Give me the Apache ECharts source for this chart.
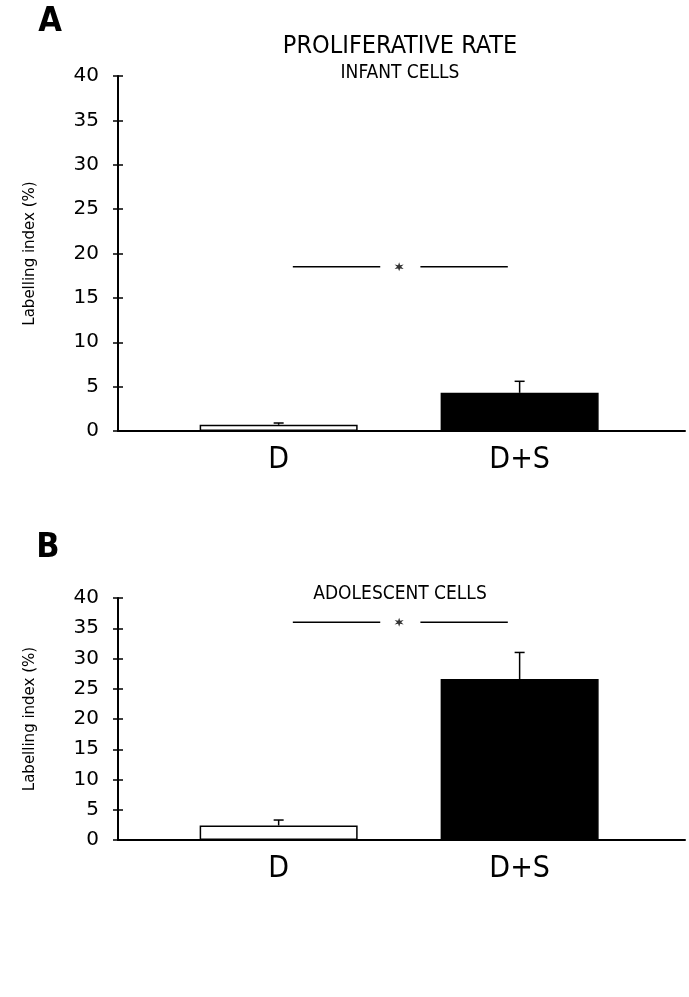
<!DOCTYPE html>
<html>
<head>
<meta charset="utf-8">
<script src="https://cdn.jsdelivr.net/npm/echarts@6/dist/echarts.min.js"></script>
<style>
  html, body { margin: 0; padding: 0; background: #fff; }
  #chart { width: 689px; height: 997px; }
</style>
</head>
<body>
<div id="chart"></div>
<script>
// groups on the x axis (value positions so the bars sit where the figure has them)
var categories = ['D', 'D+S'];
var catX = [0.68, 1.7];

// panel A - infant cells
var infantMean = [0.7, 4.3];
var infantErr = [0.2, 1.3];
// panel B - adolescent cells
var adolMean = [2.4, 26.6];
var adolErr = [0.9, 4.4];

// significance bars (y level per panel, x extent of the two dashes, star position)
var sigY = [18.5, 36];
var sigSegments = [[0.74, 1.11], [1.28, 1.65]];
var starX = 1.19;

var barColors = ['#ffffff', '#000000'];
var starPath = 'path://M0,-10L2,-3.5L8.7,-5L4,0L8.7,5L2,3.5L0,10L-2,3.5L-8.7,5L-4,0L-8.7,-5L-2,-3.5Z';
var textFont = '"DejaVu Sans Condensed", "Liberation Sans", sans-serif';

function xAxisFor(gridIndex) {
  return {
    type: 'value', gridIndex: gridIndex, min: 0, max: 2.4,
    axisLine: { show: true, lineStyle: { color: '#000', width: 2 } },
    axisTick: { show: false },
    splitLine: { show: false },
    axisLabel: {
      customValues: catX,
      formatter: function (v) { return categories[catX.indexOf(v)] || ''; },
      fontFamily: textFont, fontSize: 30, color: '#000', margin: 14
    }
  };
}

function yAxesFor(gridIndex) {
  return [{
    type: 'value', gridIndex: gridIndex, min: 0, max: 40, interval: 5,
    name: 'Labelling index (%)', nameLocation: 'middle', nameGap: 80,
    nameTextStyle: { fontFamily: 'DejaVu Sans', fontSize: 15, color: '#000' },
    axisLine: { show: true, lineStyle: { color: '#000', width: 2 } },
    axisTick: { show: true, length: 5, lineStyle: { color: '#000', width: 1.5 } },
    splitLine: { show: false },
    axisLabel: { fontFamily: 'DejaVu Sans', fontSize: 20, color: '#000', margin: 19 }
  }, {
    // inner half of the crossing ticks
    type: 'value', gridIndex: gridIndex, min: 0, max: 40, interval: 5, position: 'left',
    axisLine: { show: false },
    axisTick: { show: true, inside: true, length: 5, lineStyle: { color: '#000', width: 1.5 } },
    axisLabel: { show: false },
    splitLine: { show: false }
  }];
}

function panelSeries(xi, yi, mean, err, level) {
  var s = [];
  s.push({
    type: 'bar', xAxisIndex: xi, yAxisIndex: yi, barWidth: 158,
    data: catX.map(function (x, i) {
      return { value: [x, mean[i]], itemStyle: { color: barColors[i], borderColor: '#000', borderWidth: 1.5 } };
    }),
    z: 2
  });
  s.push({
    type: 'custom', xAxisIndex: xi, yAxisIndex: yi,
    data: catX.map(function (x, i) { return [x, mean[i], mean[i] + err[i]]; }),
    renderItem: function (params, api) {
      var p0 = api.coord([api.value(0), api.value(1)]);
      var p1 = api.coord([api.value(0), api.value(2)]);
      var st = { stroke: '#000', lineWidth: 1.5 };
      return {
        type: 'group', children: [
          { type: 'line', shape: { x1: p0[0], y1: p0[1], x2: p1[0], y2: p1[1] }, style: st },
          { type: 'line', shape: { x1: p1[0] - 5, y1: p1[1], x2: p1[0] + 5, y2: p1[1] }, style: st }
        ]
      };
    },
    z: 3
  });
  sigSegments.forEach(function (seg) {
    s.push({
      type: 'line', xAxisIndex: xi, yAxisIndex: yi, symbol: 'none',
      lineStyle: { color: '#000', width: 1.5 },
      data: [[seg[0], level], [seg[1], level]]
    });
  });
  s.push({
    type: 'scatter', xAxisIndex: xi, yAxisIndex: yi, symbol: starPath, symbolSize: 9,
    itemStyle: { color: '#000' }, data: [[starX, level]]
  });
  return s;
}

var option = {
  animation: false,
  backgroundColor: '#fff',
  grid: [
    { left: 118, right: 4, top: 76, height: 355 },
    { left: 118, right: 4, top: 598, height: 242 }
  ],
  xAxis: [xAxisFor(0), xAxisFor(1)],
  yAxis: yAxesFor(0).concat(yAxesFor(1)),
  series: panelSeries(0, 0, infantMean, infantErr, sigY[0])
    .concat(panelSeries(1, 2, adolMean, adolErr, sigY[1])),
  graphic: [
    { type: 'text', x: 50, y: 22, style: { text: 'A', align: 'center', verticalAlign: 'middle', fontFamily: textFont, fontSize: 34, fontWeight: 'bold', fill: '#000' } },
    { type: 'text', x: 400, y: 46, style: { text: 'PROLIFERATIVE RATE', align: 'center', verticalAlign: 'middle', fontFamily: textFont, fontSize: 25, fill: '#000' } },
    { type: 'text', x: 400, y: 73, style: { text: 'INFANT CELLS', align: 'center', verticalAlign: 'middle', fontFamily: textFont, fontSize: 19, fill: '#000' } },
    { type: 'text', x: 48, y: 548, style: { text: 'B', align: 'center', verticalAlign: 'middle', fontFamily: textFont, fontSize: 34, fontWeight: 'bold', fill: '#000' } },
    { type: 'text', x: 400, y: 594, style: { text: 'ADOLESCENT CELLS', align: 'center', verticalAlign: 'middle', fontFamily: textFont, fontSize: 19, fill: '#000' } }
  ]
};

var myChart = echarts.init(document.getElementById('chart'), null, { renderer: 'canvas' });
myChart.setOption(option);
</script>
</body>
</html>
